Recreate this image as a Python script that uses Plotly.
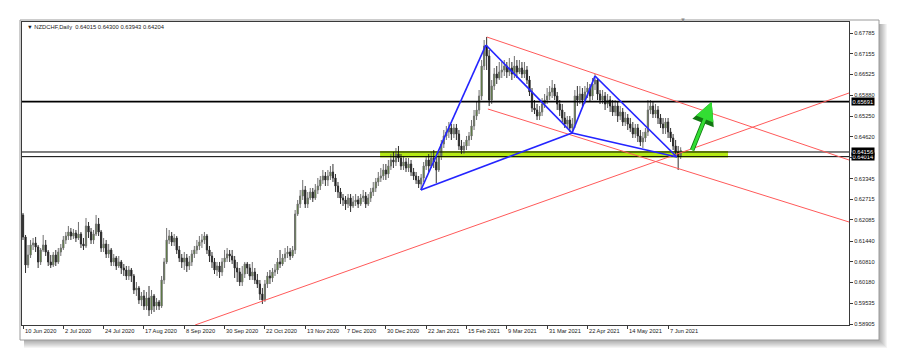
import plotly.graph_objects as go

# ---- candle data (NZDCHF daily, bar 0 = 10 Jun 2020) ----
op = [.62235,.61564,.60710,.61015,.61320,.61381,.61259,.60801,.61167,.61320,
      .61106,.60801,.60710,.61015,.60801,.61106,.61228,.61472,.61594,.61716,
      .61594,.61686,.61533,.61655,.61350,.61289,.61899,.61716,.61472,.61655,
      .61960,.61716,.61228,.61350,.61045,.61167,.60801,.60923,.60679,.60801,
      .60618,.60557,.60374,.60557,.60374,.59947,.60008,.59642,.59764,.59459,
      .59703,.59337,.59764,.59459,.59581,.59459,.60252,.60801,.61472,.61594,
      .61411,.61533,.61167,.60923,.60801,.60923,.60679,.60801,.61045,.61167,
      .61289,.61411,.61472,.61594,.61167,.60984,.60801,.60557,.60679,.60496,
      .60801,.60923,.61045,.60984,.60862,.60618,.60496,.60191,.60435,.60740,
      .60618,.60374,.60496,.60252,.60130,.59825,.59642,.60130,.60374,.60313,
      .60496,.60557,.60801,.60740,.60923,.61045,.61106,.60984,.61167,.62265,
      .62570,.62814,.62997,.62570,.62753,.62936,.62753,.62997,.63119,.63302,
      .63424,.63302,.63424,.63546,.63363,.63119,.62936,.62753,.62692,.62570,
      .62753,.62509,.62631,.62692,.62570,.62753,.62814,.62570,.62753,.62936,
      .63058,.63241,.63363,.63424,.63607,.63485,.63729,.63912,.63851,.64095,
      .63973,.63729,.63851,.63668,.63790,.63546,.63424,.63302,.63180,.63363,
      .63729,.63912,.63729,.63973,.63851,.63607,.64034,.64400,.64644,.64766,
      .64888,.64705,.64888,.64705,.64339,.64217,.64339,.64522,.64644,.64949,
      .65254,.65437,.65864,.66779,.67389,.67084,.65742,.66169,.66535,.66413,
      .66596,.66657,.66779,.66596,.66718,.66535,.66779,.66596,.66718,.66535,
      .66657,.66352,.65986,.65498,.65437,.65254,.65376,.65620,.65742,.65864,
      .65986,.66108,.65864,.65620,.65437,.65193,.65010,.65132,.64888,.65010,
      .65864,.65742,.65925,.65742,.65986,.66108,.65864,.66230,.66352,.65925,
      .65742,.65864,.65620,.65742,.65559,.65376,.65559,.65254,.65376,.65071,
      .65193,.65010,.64888,.64705,.64888,.64644,.64461,.64583,.64766,.65437,
      .65559,.65315,.65437,.65193,.65010,.64888,.65071,.64766,.64583,.64339,
      .64156,.64015]
hi = [.62296,.61625,.61320,.61472,.61533,.61564,.61320,.61228,.61625,.61472,
      .61167,.61015,.61106,.61167,.61228,.61350,.61594,.61716,.61899,.61838,
      .61808,.61777,.62021,.61716,.61533,.62143,.62021,.61838,.61777,.62235,
      .62143,.61777,.61533,.61472,.61350,.61228,.61045,.60984,.60984,.60862,
      .60740,.60679,.60679,.60618,.60435,.60191,.60069,.59886,.59947,.59886,
      .60069,.59947,.59825,.59703,.59642,.60374,.60923,.61838,.61777,.61716,
      .61655,.61594,.61289,.61045,.61106,.61045,.60984,.61167,.61289,.61472,
      .61594,.61655,.61716,.61655,.61289,.61106,.60923,.60801,.60801,.60923,
      .61167,.61228,.61167,.61167,.60984,.60801,.60618,.60679,.60801,.60801,
      .60740,.60801,.60618,.60435,.60252,.60008,.60252,.60496,.60557,.60618,
      .60740,.60923,.61167,.61045,.61228,.61289,.61228,.61289,.62387,.62692,
      .62997,.63302,.63119,.62936,.63058,.63058,.63180,.63363,.63424,.63607,
      .63546,.63607,.63729,.63790,.63485,.63241,.63058,.62875,.62814,.62875,
      .62875,.62814,.62875,.62814,.62875,.62997,.62936,.62875,.63058,.63241,
      .63363,.63546,.63668,.63790,.63790,.63912,.64095,.64156,.64278,.64339,
      .64095,.64034,.63973,.63973,.63912,.63668,.63546,.63424,.63485,.63851,
      .64034,.64095,.64156,.64217,.64034,.64217,.64522,.64827,.64949,.65071,
      .65010,.65010,.65010,.64827,.64522,.64461,.64644,.64766,.65132,.65437,
      .65681,.66047,.66962,.67572,.67664,.67267,.66352,.66718,.66779,.66901,
      .66901,.66962,.66901,.67023,.66901,.67084,.66962,.66962,.66901,.66901,
      .66779,.66474,.66108,.65742,.65620,.65559,.65803,.65925,.66108,.66169,
      .66352,.66230,.65986,.65742,.65620,.65376,.65254,.65254,.65193,.66047,
      .66169,.66169,.66108,.66169,.66291,.66230,.66413,.66535,.66413,.66047,
      .66047,.65986,.65925,.65864,.65742,.65742,.65681,.65559,.65498,.65376,
      .65315,.65193,.65071,.65010,.65010,.64827,.64766,.64888,.65742,.65742,
      .65681,.65620,.65559,.65315,.65193,.65193,.65193,.64888,.64705,.64522,
      .64339,.64300]
lo = [.61472,.60466,.60618,.60923,.61167,.61106,.60618,.60710,.61106,.60984,
      .60679,.60618,.60649,.60679,.60740,.60984,.61167,.61350,.61472,.61472,
      .61503,.61411,.61472,.61228,.61167,.61228,.61533,.61350,.61350,.61594,
      .61594,.61106,.61106,.60923,.60923,.60679,.60679,.60557,.60618,.60435,
      .60374,.60252,.60252,.60191,.59825,.59764,.59520,.59459,.59337,.59337,
      .59154,.59215,.59276,.59337,.59337,.59398,.60130,.60740,.61350,.61289,
      .61289,.61045,.60801,.60618,.60557,.60496,.60557,.60679,.60923,.61045,
      .61167,.61228,.61350,.61045,.60801,.60618,.60435,.60374,.60313,.60374,
      .60618,.60801,.60801,.60740,.60313,.60191,.60069,.60069,.60313,.60435,
      .60252,.60252,.60130,.60008,.59642,.59520,.59581,.60008,.60130,.60191,
      .60374,.60435,.60618,.60679,.60801,.60923,.60862,.60923,.61045,.62204,
      .62448,.62692,.62448,.62448,.62692,.62631,.62692,.62875,.62997,.63180,
      .63119,.63119,.63302,.63241,.62936,.62753,.62570,.62509,.62387,.62448,
      .62326,.62448,.62509,.62448,.62509,.62631,.62448,.62509,.62631,.62814,
      .62936,.63119,.63241,.63302,.63302,.63363,.63607,.63668,.63729,.63851,
      .63607,.63607,.63546,.63546,.63424,.63302,.63180,.63058,.62997,.63241,
      .63607,.63546,.63668,.63668,.63211,.63546,.63912,.64278,.64522,.64583,
      .64522,.64583,.64522,.64217,.64095,.64095,.64217,.64339,.64522,.64827,
      .65132,.65315,.65742,.66657,.66657,.65559,.65620,.66047,.66230,.66352,
      .66413,.66474,.66413,.66474,.66352,.66413,.66413,.66535,.66413,.66413,
      .66230,.65864,.65376,.65315,.65132,.65132,.65254,.65498,.65620,.65742,
      .65803,.65742,.65437,.65254,.65071,.64888,.64888,.64766,.64705,.64888,
      .65559,.65620,.65559,.65620,.65803,.65681,.65742,.66047,.65742,.65620,
      .65620,.65437,.65498,.65376,.65254,.65254,.65071,.65132,.64949,.64949,
      .64827,.64766,.64583,.64583,.64461,.64339,.64278,.64461,.64644,.65315,
      .65193,.65193,.65010,.64888,.64705,.64705,.64583,.64461,.64217,.64034,
      .63607,.63943]
cl = [.61564,.60710,.61015,.61320,.61381,.61259,.60801,.61167,.61320,.61106,
      .60801,.60710,.61015,.60801,.61106,.61228,.61472,.61594,.61716,.61594,
      .61686,.61533,.61655,.61350,.61289,.61899,.61716,.61472,.61655,.61960,
      .61716,.61228,.61350,.61045,.61167,.60801,.60923,.60679,.60801,.60618,
      .60557,.60374,.60557,.60374,.59947,.60008,.59642,.59764,.59459,.59703,
      .59337,.59764,.59459,.59581,.59459,.60252,.60801,.61472,.61594,.61411,
      .61533,.61167,.60923,.60801,.60923,.60679,.60801,.61045,.61167,.61289,
      .61411,.61472,.61594,.61167,.60984,.60801,.60557,.60679,.60496,.60801,
      .60923,.61045,.60984,.60862,.60618,.60496,.60191,.60435,.60740,.60618,
      .60374,.60496,.60252,.60130,.59825,.59642,.60130,.60374,.60313,.60496,
      .60557,.60801,.60740,.60923,.61045,.61106,.60984,.61167,.62265,.62570,
      .62814,.62997,.62570,.62753,.62936,.62753,.62997,.63119,.63302,.63424,
      .63302,.63424,.63546,.63363,.63119,.62936,.62753,.62692,.62570,.62753,
      .62509,.62631,.62692,.62570,.62753,.62814,.62570,.62753,.62936,.63058,
      .63241,.63363,.63424,.63607,.63485,.63729,.63912,.63851,.64095,.63973,
      .63729,.63851,.63668,.63790,.63546,.63424,.63302,.63180,.63363,.63729,
      .63912,.63729,.63973,.63851,.63607,.64034,.64400,.64644,.64766,.64888,
      .64705,.64888,.64705,.64339,.64217,.64339,.64522,.64644,.64949,.65254,
      .65437,.65864,.66779,.67389,.67084,.65742,.66169,.66535,.66413,.66596,
      .66657,.66779,.66596,.66718,.66535,.66779,.66596,.66718,.66535,.66657,
      .66352,.65986,.65498,.65437,.65254,.65376,.65620,.65742,.65864,.65986,
      .66108,.65864,.65620,.65437,.65193,.65010,.65132,.64888,.65010,.65864,
      .65742,.65925,.65742,.65986,.66108,.65864,.66230,.66352,.65925,.65742,
      .65864,.65620,.65742,.65559,.65376,.65559,.65254,.65376,.65071,.65193,
      .65010,.64888,.64705,.64888,.64644,.64461,.64583,.64766,.65437,.65559,
      .65315,.65437,.65193,.65010,.64888,.65071,.64766,.64583,.64339,.64156,
      .64034,.64204]

date_labels = ["10 Jun 2020", "2 Jul 2020", "24 Jul 2020", "17 Aug 2020", "8 Sep 2020",
               "30 Sep 2020", "22 Oct 2020", "13 Nov 2020", "7 Dec 2020", "30 Dec 2020",
               "22 Jan 2021", "15 Feb 2021", "9 Mar 2021", "31 Mar 2021", "22 Apr 2021",
               "14 May 2021", "7 Jun 2021"]
bars_per_label = 16
price_ticks = [0.67785, 0.67155, 0.66525, 0.65880, 0.65250, 0.64620, 0.63990, 0.63345,
               0.62715, 0.62085, 0.61440, 0.60810, 0.60180, 0.59535, 0.58905]
hline_prices = [0.65691, 0.64156, 0.64014]
hline_widths = [1.6, 1.0, 1.0]
hline_labels = ["0.65691", "0.64156", "0.64014"]
zone_low, zone_high = 0.63985, 0.64185
zone_start, zone_end = 141.7, 279.8

# trend lines: (x0, y0, x1, y1) in bar index / price
red_lines = [(68.3, 0.58879, 327.8, 0.65955),
             (184.1, 0.67663, 327.8, 0.63912),
             (184.5, 0.65467, 327.8, 0.62021)]
# harmonic pattern points X A B C D
pat_x = [157.9, 183.7, 217.9, 227.0, 259.5]
pat_y = [0.62997, 0.67419, 0.64735, 0.66474, 0.64003]
arrow_tail = (265.3, 0.64165)
arrow_head = (273.3, 0.65690)

title_text = "▼ NZDCHF,Daily  0.64015 0.64300 0.63943 0.64204"

# ---- layout geometry (pixels) ----
FW, FH = 900, 361
PL, PR, PT, PB = 22, 849, 22, 325
PW, PH = PR - PL, PB - PT


def pxx(x):
    return (x - PL) / PW


def pxy(y):
    return (PB - y) / PH


FONT = "Liberation Sans"
x = list(range(len(op)))

fig = go.Figure()
fig.add_trace(go.Candlestick(
    x=x, open=op, high=hi, low=lo, close=cl,
    increasing=dict(line=dict(color="#707070", width=1), fillcolor="#3f8a00"),
    decreasing=dict(line=dict(color="#303030", width=1), fillcolor="#000000"),
    whiskerwidth=0, hoverinfo="skip", showlegend=False))

shapes = []
# window shadow + frame
for k in range(1, 9):
    shapes.append(dict(type="rect", xref="paper", yref="paper",
                       x0=pxx(24), x1=pxx(879 + k), y0=pxy(340 + k), y1=pxy(24),
                       fillcolor="rgba(0,0,0,0.045)", line=dict(width=0), layer="below"))
shapes.append(dict(type="rect", xref="paper", yref="paper",
                   x0=pxx(20), x1=pxx(879), y0=pxy(340), y1=pxy(20),
                   fillcolor="#ffffff", line=dict(color="#9a9a9a", width=1), layer="below"))
# green zone
shapes.append(dict(type="rect", xref="x", yref="y", x0=zone_start, x1=zone_end,
                   y0=zone_low, y1=zone_high, fillcolor="#b4ea14",
                   line=dict(width=0), layer="below"))
# horizontal lines
for p, w in zip(hline_prices, hline_widths):
    shapes.append(dict(type="line", xref="paper", yref="y", x0=0, x1=1, y0=p, y1=p,
                       line=dict(color="#000000", width=w)))
# red lines
for (a, b, c, d) in red_lines:
    shapes.append(dict(type="line", xref="x", yref="y", x0=a, y0=b, x1=c, y1=d,
                       line=dict(color="#ff5a5a", width=1)))
# blue pattern
segs = [(0, 1), (1, 2), (2, 0), (2, 3), (3, 4), (4, 2)]
for i, j in segs:
    shapes.append(dict(type="line", xref="x", yref="y",
                       x0=pat_x[i], y0=pat_y[i], x1=pat_x[j], y1=pat_y[j],
                       line=dict(color="#2424ff", width=1.7)))

annotations = []
# date labels
for k, lab in enumerate(date_labels):
    annotations.append(dict(x=k * bars_per_label - 0.2, y=pxy(331), xref="x", yref="paper",
                            text=lab, showarrow=False, xanchor="left", yanchor="middle",
                            font=dict(family=FONT, size=5.7, color="#1a1a1a")))
# price labels (black boxes)
for p, lab in zip(reversed(hline_prices), reversed(hline_labels)):
    annotations.append(dict(x=pxx(851), y=p, xref="paper", yref="y", text=lab,
                            showarrow=False, xanchor="left", yanchor="middle",
                            bgcolor="#000000", borderpad=0.5,
                            font=dict(family=FONT, size=5.7, color="#ffffff")))
# title
annotations.append(dict(x=pxx(25), y=pxy(27), xref="paper", yref="paper", text=title_text,
                        showarrow=False, xanchor="left", yanchor="middle",
                        font=dict(family=FONT, size=5.8, color="#1a1a1a")))
# chart shift marker
annotations.append(dict(x=pxx(683), y=pxy(19.5), xref="paper", yref="paper", text="▼",
                        showarrow=False, xanchor="center", yanchor="middle",
                        font=dict(family=FONT, size=6, color="#8a8a8a")))
# green arrow (outline + fill)
for col, w, s in (("#127812", 4.6, 1.0), ("#33dd33", 3.0, 1.25)):
    annotations.append(dict(x=arrow_head[0], y=arrow_head[1], ax=arrow_tail[0], ay=arrow_tail[1],
                            xref="x", yref="y", axref="x", ayref="y", text="",
                            showarrow=True, arrowhead=2, arrowsize=s, arrowwidth=w,
                            arrowcolor=col))

fig.update_layout(
    width=FW, height=FH,
    margin=dict(l=PL, r=FW - PR, t=PT, b=FH - PB, pad=0),
    paper_bgcolor="#ffffff", plot_bgcolor="#ffffff",
    shapes=shapes, annotations=annotations, showlegend=False,
    xaxis=dict(range=[-0.4, 327.8], rangeslider=dict(visible=False), showgrid=False,
               zeroline=False, showline=True, linecolor="#3a3a3a", linewidth=1, mirror=True,
               ticks="outside", ticklen=3, tickcolor="#3a3a3a",
               tickvals=[k * bars_per_label for k in range(len(date_labels))],
               showticklabels=False, fixedrange=True),
    yaxis=dict(range=[0.58879, 0.68121], side="right", showgrid=False, zeroline=False,
               showline=True, linecolor="#3a3a3a", linewidth=1, mirror=True,
               ticks="outside", ticklen=3, tickcolor="#3a3a3a",
               tickvals=price_ticks, ticktext=[f"{v:.5f}" for v in price_ticks],
               tickfont=dict(family=FONT, size=5.7, color="#1a1a1a"), fixedrange=True),
)

fig.write_html("out.html")
